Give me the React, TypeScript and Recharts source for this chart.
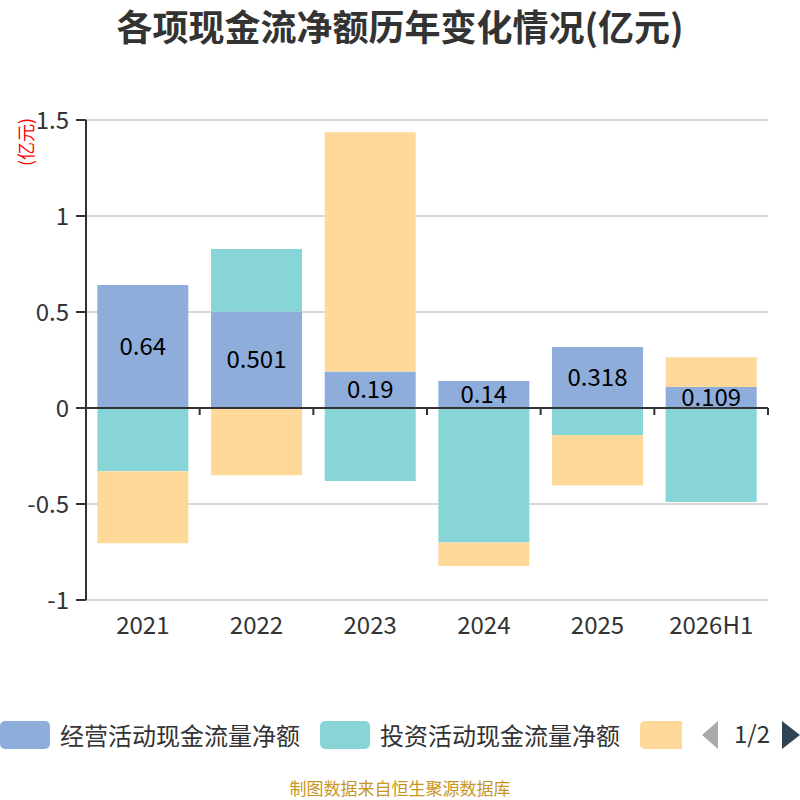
import React from "react"
import { BarChart, Bar, XAxis, YAxis, CartesianGrid, ReferenceLine, LabelList } from "recharts"

const categories = ["2021", "2022", "2023", "2024", "2025", "2026H1"]
const operating = [0.64, 0.501, 0.19, 0.14, 0.318, 0.109]
const investing = [-0.33, 0.327, -0.38, -0.70, -0.14, -0.49]
const financing = [-0.375, -0.35, 1.246, -0.123, -0.264, 0.155]
const yTicks = [-1, -0.5, 0, 0.5, 1, 1.5]

const seriesNames = ["经营活动现金流量净额", "投资活动现金流量净额", "筹资活动现金流量净额"]
const COLORS = ["#8eaddb", "#88d5d8", "#fed99a"]
// legend is paged: page 1 shows the first two names, the third only peeks in as its swatch
const legendPageNames = 2

const FONT = "'Noto Sans CJK SC', 'Open Sans', sans-serif"

const data = categories.map((c, i) => ({
  name: c,
  op: operating[i],
  inv: investing[i],
  fin: financing[i],
}))

// zero line with the category-boundary ticks hanging below it
function ZeroAxis(props: any) {
  const { x1, y1, x2, y2 } = props
  if (x1 == null) return null
  const step = (x2 - x1) / categories.length
  return (
    <g>
      <line x1={x1} y1={y1} x2={x2} y2={y2} stroke="#333" strokeWidth={2} />
      {categories.map((_, i) => (
        <line key={i} x1={x1 + step * (i + 1)} y1={y1} x2={x1 + step * (i + 1)} y2={y1 + 7} stroke="#333" strokeWidth={2} />
      ))}
    </g>
  )
}

function LegendBar() {
  return (
    <div style={{ position: "absolute", left: 0, top: 715, width: 800, height: 40, fontFamily: FONT }}>
      <div style={{ position: "absolute", left: 0, top: 0, width: 682, height: 40, overflow: "hidden", whiteSpace: "nowrap", display: "flex", alignItems: "center" }}>
        {seriesNames.map((n, i) => (
          <div key={n} style={{ display: "flex", alignItems: "center", marginRight: 20, flexShrink: 0 }}>
            <div style={{ width: 50, height: 28, borderRadius: 5, background: COLORS[i], marginRight: 10 }} />
            {i < legendPageNames && <span style={{ fontSize: 24, color: "#333", lineHeight: "40px" }}>{n}</span>}
          </div>
        ))}
      </div>
      <svg style={{ position: "absolute", left: 700, top: 0, overflow: "visible" }} width={100} height={40}>
        <polygon points="2,20 18,6 18,34" fill="#aaa" />
        <text x={52} y={20} dy="0.35em" textAnchor="middle" fontSize={24} fill="#333" fontFamily={FONT}>1/2</text>
        <polygon points="82,6 100,20 82,34" fill="#2f4554" />
      </svg>
    </div>
  )
}

export default function App() {
  return (
    <div style={{ position: "absolute", left: 0, top: 0, width: 800, height: 800, background: "#fff", fontFamily: FONT }}>
      <div style={{ position: "absolute", top: 3, left: 0, width: 800, textAlign: "center", fontSize: 36, fontWeight: "bold", color: "#333", lineHeight: "44px" }}>
        各项现金流净额历年变化情况(亿元)
      </div>
      <BarChart width={800} height={800} data={data} stackOffset="sign" barCategoryGap="10%" margin={{ top: 120, right: 32, bottom: 160, left: 26 }}>
        <CartesianGrid horizontal vertical={false} stroke="#ccc" strokeWidth={1.3} />
        <XAxis
          dataKey="name"
          height={40}
          axisLine={false}
          tickLine={false}
          tickSize={6}
          tickMargin={11}
          interval={0}
          tick={{ fontSize: 24, fill: "#333", fontFamily: FONT }}
        />
        <YAxis
          width={60}
          domain={[-1, 1.5]}
          ticks={yTicks}
          interval={0}
          allowDataOverflow
          axisLine={{ stroke: "#333", strokeWidth: 2 }}
          tickLine={{ stroke: "#333", strokeWidth: 2 }}
          tickSize={10}
          tickMargin={7}
          tick={{ fontSize: 24, fill: "#333", fontFamily: FONT }}
          label={{ value: "(亿元)", angle: -90, position: "insideTopLeft", offset: 0, dx: -6, dy: 46, fill: "#ff0000", fontSize: 18, fontFamily: FONT }}
        />
        <Bar dataKey="op" name={seriesNames[0]} stackId="a" fill={COLORS[0]} isAnimationActive={false}>
          <LabelList dataKey="op" position="center" fill="#000" fontSize={24} fontFamily={FONT} />
        </Bar>
        <Bar dataKey="inv" name={seriesNames[1]} stackId="a" fill={COLORS[1]} isAnimationActive={false} />
        <Bar dataKey="fin" name={seriesNames[2]} stackId="a" fill={COLORS[2]} isAnimationActive={false} />
        <ReferenceLine y={0} shape={ZeroAxis} />
      </BarChart>
      <LegendBar />
      <div style={{ position: "absolute", top: 777, left: 0, width: 800, textAlign: "center", fontSize: 17, color: "#c8961e", lineHeight: "22px" }}>
        制图数据来自恒生聚源数据库
      </div>
    </div>
  )
}
